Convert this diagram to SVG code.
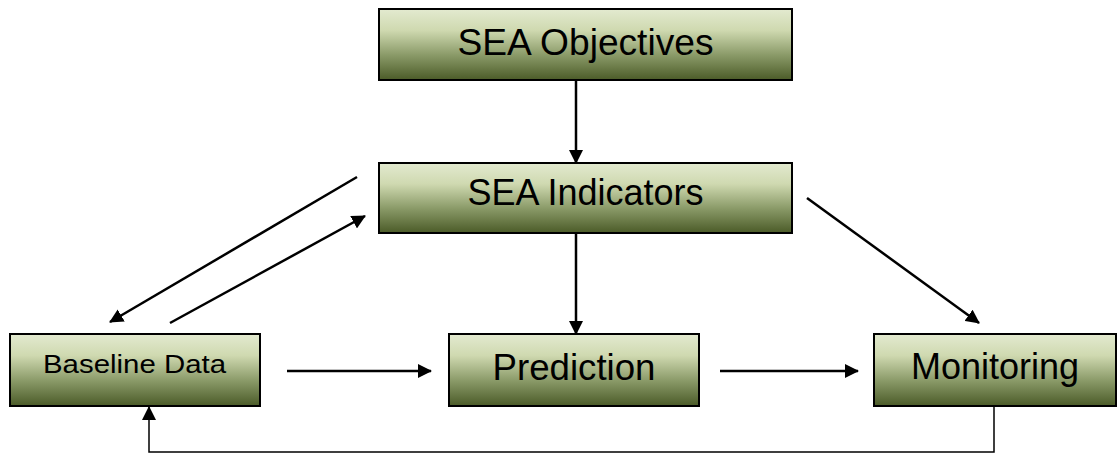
<svg xmlns="http://www.w3.org/2000/svg" width="1117" height="454" viewBox="0 0 1117 454">
<defs>
<linearGradient id="g" x1="0" y1="0" x2="0" y2="1">
<stop offset="0" stop-color="#e3ead0"/>
<stop offset="0.3" stop-color="#cfd9b0"/>
<stop offset="0.65" stop-color="#8a9a68"/>
<stop offset="1" stop-color="#4b5b28"/>
</linearGradient>
<marker id="ah" markerWidth="14" markerHeight="14" refX="13" refY="7" orient="auto" markerUnits="userSpaceOnUse">
<path d="M0,0 L14,7 L0,14 Z" fill="#000"/>
</marker>
</defs>
<style>
.box{fill:url(#g);stroke:#000;stroke-width:2}
.t{font-family:"Liberation Sans",Arial,sans-serif;font-size:36px;fill:#000;text-anchor:middle}
.ts{font-family:"Liberation Sans",Arial,sans-serif;font-size:25px;fill:#000;text-anchor:middle}
.c{stroke:#000;stroke-width:2.5;fill:none;marker-end:url(#ah)}
.f{stroke:#000;stroke-width:1.5;fill:none;marker-end:url(#ah)}
</style>
<g id="connectors">
<line class="c" x1="576" y1="80" x2="576" y2="163"/>
<line class="c" x1="576" y1="233" x2="576" y2="334"/>
<line class="c" x1="357" y1="177" x2="110" y2="322"/>
<line class="c" x1="170" y1="323" x2="365" y2="216"/>
<line class="c" x1="807" y1="198" x2="979" y2="323"/>
<line class="c" x1="287" y1="371" x2="431" y2="371"/>
<line class="c" x1="720" y1="371" x2="858" y2="371"/>
<polyline class="f" points="994,406 994,452 149,452 149,407"/>
</g>
<g id="sea-objectives">
<rect class="box" x="379" y="9" width="413" height="71"/>
<text class="t" x="585.5" y="55" textLength="256" lengthAdjust="spacingAndGlyphs">SEA Objectives</text>
</g>
<g id="sea-indicators">
<rect class="box" x="379" y="163" width="413" height="70"/>
<text class="t" x="585.5" y="205">SEA Indicators</text>
</g>
<g id="baseline-data">
<rect class="box" x="10" y="334" width="250" height="72"/>
<text class="ts" x="134.5" y="373" textLength="183" lengthAdjust="spacingAndGlyphs">Baseline Data</text>
</g>
<g id="prediction">
<rect class="box" x="449" y="334" width="250" height="72"/>
<text class="t" x="574" y="380" textLength="163" lengthAdjust="spacingAndGlyphs">Prediction</text>
</g>
<g id="monitoring">
<rect class="box" x="874" y="334" width="242" height="72"/>
<text class="t" x="995" y="379">Monitoring</text>
</g>
</svg>
